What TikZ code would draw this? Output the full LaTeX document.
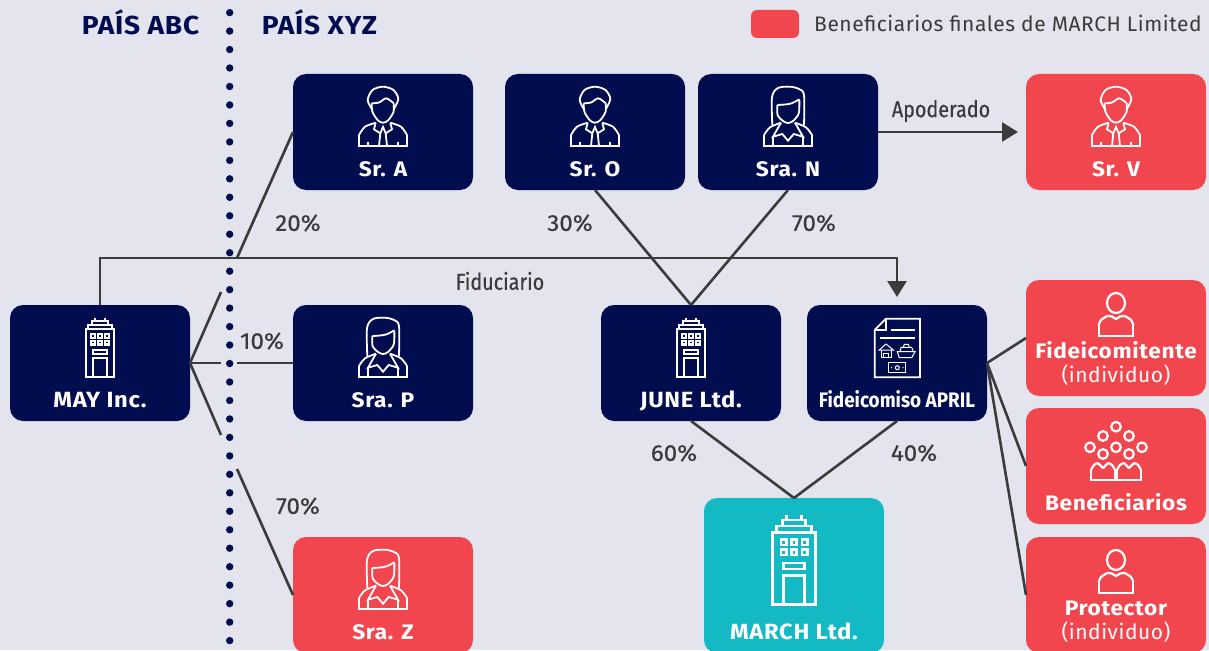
\documentclass[tikz,border=0pt]{standalone}
\usepackage{fontspec}
\setmainfont{Fira Sans}
\newfontfamily\widebold[FakeStretch=1.08,LetterSpace=3]{Fira Sans Bold}
\newfontfamily\spacedfont[LetterSpace=2.5]{Fira Sans}
\newfontfamily\sharefont[FakeBold=0.5,FakeStretch=1.05]{Fira Sans}
\newfontfamily\rolefont[FakeBold=0.5,FakeStretch=0.86]{Fira Sans}
\newfontfamily\narrowbold[FakeStretch=0.90]{Fira Sans Bold}
\usetikzlibrary{positioning,arrows.meta}

\definecolor{pagebg}{HTML}{E3E4EE}
\definecolor{navy}{HTML}{020D4F}
\definecolor{coral}{HTML}{F2464F}
\definecolor{teal}{HTML}{13BAC3}
\definecolor{ink}{HTML}{3B3B3B}

\tikzset{
  box/.style={minimum width=180pt, minimum height=116pt, rounded corners=13pt, inner sep=0pt, outer sep=0pt},
  navybox/.style={box, fill=navy},
  coralbox/.style={box, fill=coral},
  tealbox/.style={box, fill=teal, minimum height=155pt},
  boxname/.style={anchor=base, inner sep=0pt, text=white, font=\fontsize{21}{24}\widebold},
  capsname/.style={boxname, font=\fontsize{22}{24}\widebold},
  boxnote/.style={anchor=base, inner sep=0pt, text=white, font=\fontsize{21}{24}\spacedfont},
  narrowname/.style={anchor=base, inner sep=0pt, text=white, font=\fontsize{21}{24}\narrowbold},
  heading/.style={anchor=base, inner sep=0pt, text=navy, font=\fontsize{26}{30}\widebold},
  share/.style={inner sep=0pt, text=ink, font=\fontsize{23}{26}\sharefont},
  role/.style={inner sep=0pt, text=ink, font=\fontsize{23}{26}\rolefont},
  link/.style={draw=ink, line width=2.6pt},
  arrowlink/.style={link, shorten >=8pt, -{Triangle[width=19pt,length=16pt]}},
  iconthin/.style={line width=1.8pt},
  iconbold/.style={line width=2.2pt},
  iconthick/.style={line width=2.6pt},
  towericon/.pic={
    \draw[white] (-14.3,-33.7) rectangle (14.3,14.3);
    \draw[white] (-11.7,-33.7) rectangle (11.7,-38);
    \draw[white] (-7.7,-38) rectangle (7.7,-42);
    \draw[white] (-5,-42) -- (-5,-45.3) (5,-42) -- (5,-45.3);
    \foreach \wx in {-7,0,7} \foreach \wy in {-27,-20.3}
      \draw[white] (\wx-1.8,\wy-1.8) rectangle (\wx+1.8,\wy+1.8);
    \draw[white] (-7,-13.3) rectangle (7,-9.3);
    \draw[white] (-7,14.3) -- (-7,-4.7) -- (7,-4.7) -- (7,14.3);
  },
  manicon/.pic={
    \draw[white] plot[smooth] coordinates {(-11,-22.7) (-15.3,-32) (-10.5,-42) (0,-45.3) (10.5,-42) (15.3,-33) (10.7,-22.7)};
    \draw[white] plot[smooth] coordinates {(-11.3,-28.7) (-4,-29.5) (3.3,-33.7) (10.7,-28.7)};
    \draw[white] plot[smooth] coordinates {(-11.3,-28.7) (-10.5,-20) (-5,-11.5) (0,-9.3) (5,-11.5) (10.5,-20) (10.7,-28.7)};
    \draw[white] plot[smooth] coordinates {(-24,3) (-18,-5.3) (-7.3,-9.3)};
    \draw[white] plot[smooth] coordinates {(24,3) (18,-5.3) (7.3,-9.3)};
    \draw[white] (-7.3,-9.3) -- (-9,-2.7) -- (-2.7,1.3) -- (0,-5) -- (2.7,1.3) -- (9,-2.7) -- (7.3,-9.3);
    \draw[white] (-24,3) -- (-24,14) -- (24,14) -- (24,3);
    \draw[white] (-2.7,1.3) -- (-4,14) (2.7,1.3) -- (4,14);
    \draw[white] (-15,9.7) -- (-15,14) (15,9.7) -- (15,14);
  },
  womanicon/.pic={
    \draw[white] plot[smooth] coordinates {(-15.7,-7) (-16,-35) (-10,-44) (2,-45.3) (11,-43) (16,-37) (16,-7)};
    \draw[white] plot[smooth] coordinates {(-10.7,-27) (-3,-27.5) (3.7,-28.7) (11.3,-32.7)};
    \draw[white] plot[smooth] coordinates {(-10.7,-27) (-10.4,-17) (-5,-11) (0,-9) (5,-11) (10.8,-18.7) (11.3,-32.7)};
    \draw[white] plot[smooth] coordinates {(-24,3) (-18,-4.7) (-7,-9.3)};
    \draw[white] plot[smooth] coordinates {(24,3) (18,-4.7) (7,-9.3)};
    \draw[white] (-7,-9.3) -- (-15,4.7) -- (-5.7,2) -- (0,8.7) -- (5.7,2) -- (15,4.7) -- (7,-9.3);
    \draw[white] (-24,3) -- (-24,14) -- (24,14) -- (24,3);
    \draw[white] (-15,4.7) -- (-15,14) (15,4.7) -- (15,14);
  },
  personicon/.pic={
    \draw[white] (0,-35) ellipse (9 and 10);
    \draw[white] plot[smooth] coordinates {(-17.3,-13) (-15,-18) (-8.7,-22)};
    \draw[white] plot[smooth] coordinates {(17.3,-13) (15,-18) (8.7,-22)};
    \draw[white] (-17.3,-13) -- (-17.3,-2.3) -- (17.3,-2.3) -- (17.3,-13);
    \draw[white] plot[smooth] coordinates {(-8.7,-22) (-4,-21.5) (0,-19) (4,-21.5) (8.7,-22)};
  },
  crowdicon/.pic={
    \foreach \cx/\cy in {0/-39.3,-13/-30,13/-30,-26/-18.7,0/-18.7,26/-18.7,-13/-12,13/-12}
      \draw[white] (\cx,\cy) circle (4.8);
    \draw[white] plot[smooth] coordinates {(-25,4) (-22,-1) (-18,-2.7) (-13,2.3)};
    \draw[white] plot[smooth] coordinates {(-13,2.3) (-8,-2.7) (-4,-1) (-1,4)};
    \draw[white] plot[smooth] coordinates {(1,4) (4,-1) (8,-2.7) (13,2.3)};
    \draw[white] plot[smooth] coordinates {(13,2.3) (18,-2.7) (22,-1) (25,4)};
    \draw[white] (-25,4) -- (-25,14) -- (25,14) -- (25,4) (-1,4) -- (-1,14) (1,4) -- (1,14);
  },
  deedicon/.pic={
    \draw[white] (-22.3,-33) -- (-11,-44.3) -- (23,-44.3) -- (23,14.3) -- (-22.3,14.3) -- cycle;
    \draw[white] (-22.3,-33) -- (-11,-33) -- (-11,-44.3);
    \draw[white] (-6,-33) -- (18,-33) (-17,-25) -- (18,-25);
    \begin{scope}[line width=1pt]
      \draw[white] (-17.7,-13) -- (-11,-19) -- (-3.7,-13) -- cycle;
      \draw[white] (-16,-13) -- (-16,-5.7) -- (-5.3,-5.7) -- (-5.3,-13);
      \draw[white] (-13.7,-5.7) -- (-13.7,-9.7) -- (-8.7,-9.7) -- (-8.7,-5.7);
      \draw[white] (0.3,-11.3) -- (18,-11.3) -- (14.7,-5.3) -- (2.3,-5.3) -- cycle;
      \draw[white] (3,-11.3) -- (4,-15.7) -- (14.7,-15.7) -- (16.3,-11.3);
      \draw[white] (6.3,-15.7) -- (7.3,-18.7) -- (11.3,-18.7) -- (12.3,-15.7);
      \draw[white] (-8.3,-0.3) rectangle (8.7,9.7);
      \draw[white] (0.3,4.7) circle (2);
      \fill[white] (-5.5,4.7) circle (0.7) (6,4.7) circle (0.7);
    \end{scope}
  }
}

\begin{document}
\begin{tikzpicture}[x=1pt, y=-1pt]

  \useasboundingbox (0,0) rectangle (1209,650);
  \clip (0,0) rectangle (1209,650);
  \fill[pagebg] (0,0) rectangle (1209,650);

  % Border between countries
  \coordinate (bordertop) at (229.7,12.6);
  \coordinate (borderend) at (229.7,650);
  \draw[navy, line width=7.4pt, line cap=round, dash pattern=on 0pt off 18.47pt] (bordertop) -- (borderend);

  % Define nodes
  \node[navybox]                  (mayinc) at (100,363) {};
  \node[navybox, right=103pt of mayinc] (srap) {};
  \node[navybox, above=115pt of srap]   (sra) {};
  \node[coralbox, below=116pt of srap]  (sraz) {};
  \node[navybox]                  (sro) at (595,132) {};
  \node[navybox, right=13pt of sro]     (sran) {};
  \node[coralbox, right=148pt of sran]  (srv) {};
  \node[navybox]                  (june) at (691,363) {};
  \node[navybox, right=26pt of june]    (april) {};
  \node[tealbox]                  (march) at (794,575.5) {};
  \node[coralbox]                 (settlor) at (1116,338) {};
  \node[coralbox, below=12pt of settlor]  (heirs) {};
  \node[coralbox, below=13pt of heirs]    (protector) {};
  \node[fill=coral, minimum width=48pt, minimum height=28pt, rounded corners=6pt, inner sep=0pt] (legendkey) at (775,24) {};

  % Names in the boxes
  \node[capsname] (mayinc-name) at ([yshift=14pt]mayinc.south) {MAY Inc.};
  \node[boxname] (srap-name) at ([yshift=14pt]srap.south) {Sra. P};
  \node[boxname] (sra-name) at ([yshift=14pt]sra.south) {Sr. A};
  \node[boxname] (sraz-name) at ([yshift=14pt]sraz.south) {Sra. Z};
  \node[boxname] (sro-name) at ([yshift=14pt]sro.south) {Sr. O};
  \node[boxname] (sran-name) at ([yshift=14pt]sran.south) {Sra. N};
  \node[boxname] (srv-name) at ([yshift=14pt]srv.south) {Sr. V};
  \node[capsname] (june-name) at ([yshift=14pt]june.south) {JUNE Ltd.};
  \node[narrowname] (april-name) at ([yshift=14pt]april.south) {Fideicomiso APRIL};
  \node[capsname] (march-name) at ([yshift=14pt]march.south) {MARCH Ltd.};
  \node[boxnote] (settlor-note) at ([yshift=14pt]settlor.south) {(individuo)};
  \node[boxname] (settlor-name) at ([yshift=37.5pt]settlor.south) {Fideicomitente};
  \node[boxname] (heirs-name) at ([yshift=14pt]heirs.south) {Beneficiarios};
  \node[boxnote] (protector-note) at ([yshift=14pt]protector.south) {(individuo)};
  \node[boxname] (protector-name) at ([yshift=37.5pt]protector.south) {Protector};

  % Icons
  \pic[iconbold] at (mayinc) {towericon};
  \pic[iconbold] at (june) {towericon};
  \pic[iconthick, scale=1.5] at (794,582.8) {towericon};
  \pic[iconthin] at (sra) {manicon};
  \pic[iconthin] at (sro) {manicon};
  \pic[iconthin] at (srv) {manicon};
  \pic[iconthin] at (sran) {womanicon};
  \pic[iconthin] at (srap) {womanicon};
  \pic[iconthin] at (sraz) {womanicon};
  \pic[iconthin] at (april) {deedicon};
  \pic[iconbold] at (settlor) {personicon};
  \pic[iconbold] at (protector) {personicon};
  \pic[iconbold] at (heirs) {crowdicon};

  % Headings and legend
  \node[heading] (abc) at (140.5,35) {PAÍS ABC};
  \node[heading] (xyz) at (319.5,35) {PAÍS XYZ};
  \node[anchor=base west, inner sep=0pt, text=ink, font=\fontsize{21}{24}\spacedfont] (legend) at (814,32) {Beneficiarios finales de MARCH Limited};

  % Ends of the lines cut at the border
  \coordinate (cut-a-in) at (221,292);
  \coordinate (cut-a-out) at (237,258);
  \coordinate (cut-p-in) at (221,363);
  \coordinate (cut-p-out) at (237,363);
  \coordinate (cut-z-in) at (221,435);
  \coordinate (cut-z-out) at (237,469);
  \coordinate (fidbend) at (100,258);

  % Connect the nodes
  \draw[link] (mayinc.east) -- (cut-a-in);
  \draw[link] (cut-a-out) -- (sra.west);
  \draw[link] (mayinc.east) -- (cut-p-in);
  \draw[link] (cut-p-out) -- (srap.west);
  \draw[link] (mayinc.east) -- (cut-z-in);
  \draw[link] (cut-z-out) -- (sraz.west);
  \draw[arrowlink] (mayinc.north) -- (fidbend) -| (april.north);
  \draw[arrowlink] (sran.east) -- (srv.west);
  \draw[link] (sro.south) -- (june.north);
  \draw[link] (sran.south) -- (june.north);
  \draw[link] (june.south) -- (march.north);
  \draw[link] (april.south) -- (march.north);
  \draw[link] (april.east) -- (settlor.west);
  \draw[link] (april.east) -- (heirs.west);
  \draw[link] (april.east) -- (protector.west);

  % Labels
  \node[share] (share-a) at (298,223) {20\%};
  \node[share] (share-o) at (570,223) {30\%};
  \node[share] (share-n) at (814,223) {70\%};
  \node[share] (share-p) at (262,341) {10\%};
  \node[share] (share-j) at (674,453) {60\%};
  \node[share] (share-f) at (914,453) {40\%};
  \node[share] (share-z) at (298,506) {70\%};
  \node[role]  (fiduciary) at (500,281) {Fiduciario};
  \node[role]  (nominee) at (941,111) {Apoderado};

\end{tikzpicture}
\end{document}
